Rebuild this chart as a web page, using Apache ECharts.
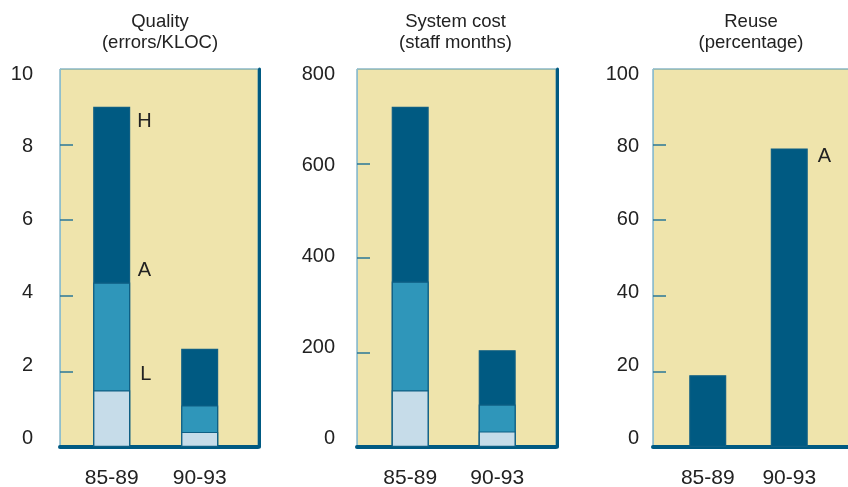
<!DOCTYPE html>
<html>
<head>
<meta charset="utf-8">
<script src="https://cdn.jsdelivr.net/npm/echarts@6/dist/echarts.min.js"></script>
<style>
  html, body { margin: 0; padding: 0; background: #ffffff; }
  #chart { width: 848px; height: 487px; }
</style>
</head>
<body>
<div id="chart"></div>
<script>
// ---- data ----
const periods = ['85-89', '90-93'];
const levelNames = ['H', 'A', 'L'];

// Quality (errors/KLOC): high, average, low
const qualityHigh = [9.0, 2.6];
const qualityAvg  = [4.35, 1.1];
const qualityLow  = [1.5, 0.4];

// System cost (staff months): high, average, low
const costHigh = [720, 205];
const costAvg  = [350, 90];
const costLow  = [120, 33];

// Reuse (percentage): average
const reuseAvg = [19, 79];

const qualityTickValues = [0, 2, 4, 6, 8, 10];
const costTickValues    = [0, 200, 400, 600, 800];
const reuseTickValues   = [0, 20, 40, 60, 80, 100];

const panelTitles = [
  'Quality\n(errors/KLOC)',
  'System cost\n(staff months)',
  'Reuse\n(percentage)'
];

// ---- styling ----
const FONT = '"Liberation Sans", Arial, Helvetica, sans-serif';
const COLORS = {
  high: '#005a82',
  avg: '#2f96ba',
  low: '#c6dce9',
  barEdge: '#0f5f84',
  panel: '#efe4ac',
  frame: '#4f93ad',
  leftEdge: '#8fbfcd',
  tick: '#2b7796',
  text: '#222222'
};

const GRID_TOP = 69;
const GRID_BOTTOM = 40;
// the printed scale numbers sit on a slightly tighter span than the ticks
const LABEL_TOP = 74;
const LABEL_BOTTOM = 49;

// per-panel geometry: framed plot area, band area holding the bars, label gap, title centre
const panels = [
  { plotLeft: 60,  plotWidth: 198, bandLeft: 67.7, bandWidth: 176, labelGap: 27, titleX: 160,
    ticks: qualityTickValues, title: panelTitles[0] },
  { plotLeft: 357, plotWidth: 199, bandLeft: 366.7, bandWidth: 174, labelGap: 22, titleX: 455.5,
    ticks: costTickValues, title: panelTitles[1] },
  { plotLeft: 653, plotWidth: 198, bandLeft: 667, bandWidth: 163, labelGap: 14, titleX: 751,
    ticks: reuseTickValues, title: panelTitles[2] }
];

const grid = [], xAxis = [], yAxis = [], graphic = [];

panels.forEach((p, i) => {
  const min = p.ticks[0];
  const max = p.ticks[p.ticks.length - 1];
  const interval = p.ticks[1] - p.ticks[0];
  const innerTicks = p.ticks.slice(1, -1);

  // framed background panel
  grid.push({
    left: p.plotLeft, width: p.plotWidth, top: GRID_TOP, bottom: GRID_BOTTOM,
    outerBoundsMode: 'none', containLabel: false,
    show: true, backgroundColor: COLORS.panel,
    borderColor: COLORS.frame, borderWidth: 1
  });
  // band area for the bars
  grid.push({
    left: p.bandLeft, width: p.bandWidth, top: GRID_TOP, bottom: GRID_BOTTOM,
    outerBoundsMode: 'none', containLabel: false, show: false
  });
  // scale numbers
  grid.push({
    left: p.plotLeft, width: 1, top: LABEL_TOP, bottom: LABEL_BOTTOM,
    outerBoundsMode: 'none', containLabel: false, show: false
  });

  xAxis.push({
    gridIndex: 3 * i, type: 'category', data: periods,
    offset: 2,
    axisLine: { show: true, lineStyle: { color: COLORS.high, width: 4 } },
    axisTick: { show: false }, axisLabel: { show: false }
  });
  xAxis.push({
    gridIndex: 3 * i + 1, type: 'category', data: periods,
    axisLine: { show: false }, axisTick: { show: false },
    axisLabel: { fontSize: 21, color: COLORS.text, fontFamily: FONT, margin: 21 }
  });
  xAxis.push({
    gridIndex: 3 * i + 2, type: 'category', data: periods, show: false
  });

  // ticks and left edge
  yAxis.push({
    gridIndex: 3 * i, type: 'value', min: min, max: max, interval: interval,
    axisLine: { show: true, lineStyle: { color: COLORS.leftEdge, width: 1 } },
    axisTick: { show: true, inside: true, length: 13, customValues: innerTicks,
                lineStyle: { color: COLORS.tick, width: 1.5 } },
    axisLabel: { show: false },
    splitLine: { show: false }
  });
  // heavy right edge
  yAxis.push({
    gridIndex: 3 * i, type: 'value', position: 'right', min: min, max: max, interval: interval,
    offset: 1,
    axisLine: { show: true, onZero: false, lineStyle: { color: COLORS.high, width: 3 } },
    axisTick: { show: false }, axisLabel: { show: false }, splitLine: { show: false }
  });
  // value scale for the bars
  yAxis.push({
    gridIndex: 3 * i + 1, type: 'value', min: min, max: max, show: false
  });
  // printed scale numbers
  yAxis.push({
    gridIndex: 3 * i + 2, type: 'value', min: min, max: max, interval: interval,
    axisLine: { show: false }, axisTick: { show: false }, splitLine: { show: false },
    axisLabel: { margin: p.labelGap, fontSize: 20, color: COLORS.text, fontFamily: FONT }
  });

  graphic.push({
    type: 'text', x: p.titleX, y: 11, silent: true,
    style: {
      text: p.title, fill: COLORS.text, fontSize: 18.5, fontFamily: FONT,
      lineHeight: 21, align: 'center', verticalAlign: 'top'
    }
  });
});

function levelLabel(text, pos) {
  return {
    show: true, formatter: text, position: pos,
    align: 'left', verticalAlign: 'middle',
    fontSize: 20, color: COLORS.text, fontFamily: FONT
  };
}

// one bar per level; levels overlap in the same slot, tallest drawn first
function levelSeries(panelIndex, values, color, labelText, labelPos, labelIdx) {
  return {
    type: 'bar',
    xAxisIndex: 3 * panelIndex + 1,
    yAxisIndex: 4 * panelIndex + 2,
    barWidth: 37,
    barGap: '-100%',
    itemStyle: { color: color, borderColor: COLORS.barEdge, borderWidth: 1.2 },
    data: values.map((v, k) =>
      (labelText && k === labelIdx) ? { value: v, label: levelLabel(labelText, labelPos) } : v),
    animation: false
  };
}

const series = [
  levelSeries(0, qualityHigh, COLORS.high, levelNames[0], [44, 15], 0),
  levelSeries(0, qualityAvg,  COLORS.avg,  levelNames[1], [44.5, -12], 0),
  levelSeries(0, qualityLow,  COLORS.low,  levelNames[2], [47, -16], 0),
  levelSeries(1, costHigh, COLORS.high),
  levelSeries(1, costAvg,  COLORS.avg),
  levelSeries(1, costLow,  COLORS.low),
  levelSeries(2, reuseAvg, COLORS.high, levelNames[1], [47, 8], 1)
];

const chart = echarts.init(document.getElementById('chart'), null, { renderer: 'canvas' });
chart.setOption({
  animation: false,
  backgroundColor: '#ffffff',
  grid: grid,
  xAxis: xAxis,
  yAxis: yAxis,
  series: series,
  graphic: graphic
});
</script>
</body>
</html>
